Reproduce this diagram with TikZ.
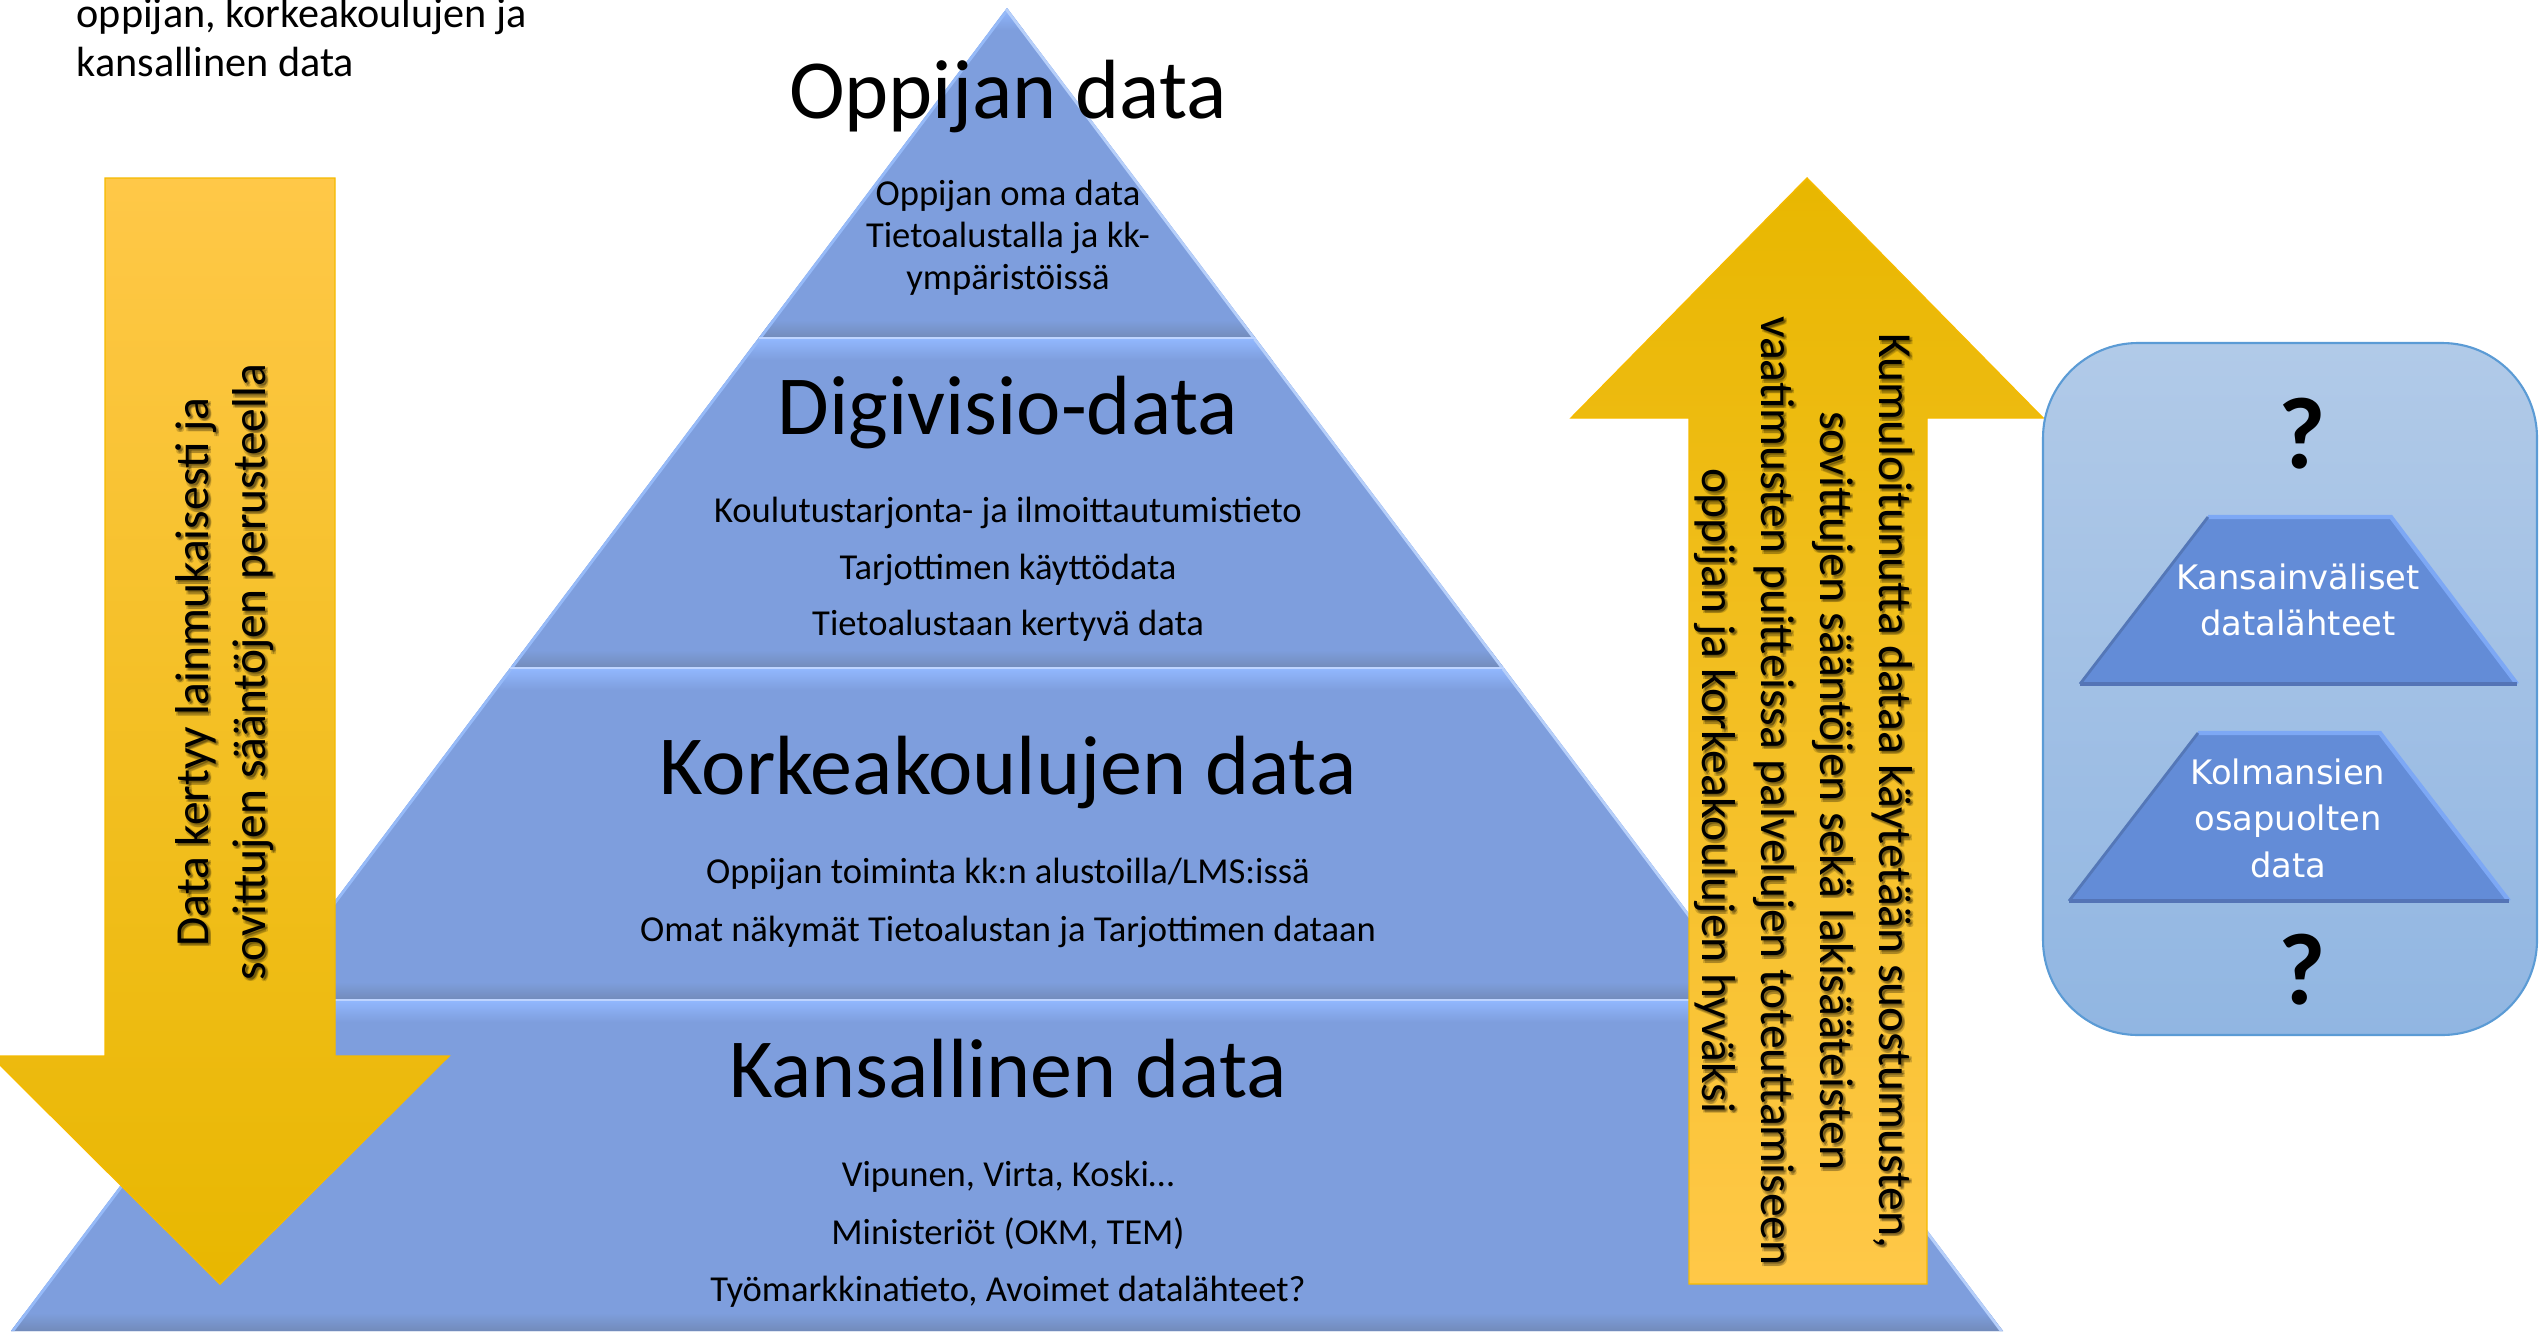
\documentclass[tikz,border=0pt]{standalone}
\usepackage{fontspec}
\setmainfont{Carlito}
\newfontfamily\dvsans{DejaVu Sans}
\usetikzlibrary{calc}
\definecolor{pyr}{RGB}{126,158,221}
\definecolor{pyrhi}{RGB}{146,184,255}
\definecolor{pyrlo}{RGB}{114,139,186}
\definecolor{pyredge}{RGB}{150,186,248}
\definecolor{goldA}{RGB}{255,200,72}
\definecolor{goldB}{RGB}{250,194,0}
\definecolor{goldC}{RGB}{232,183,0}
\definecolor{goldline}{RGB}{245,186,0}
\definecolor{boxtop}{RGB}{177,202,232}
\definecolor{boxbot}{RGB}{145,182,226}
\definecolor{boxline}{RGB}{91,155,213}
\definecolor{trap}{RGB}{99,140,215}
\definecolor{traphi}{RGB}{125,168,245}
\definecolor{traplo}{RGB}{84,116,182}
\tikzset{
  titletxt/.style={font=\fontsize{23.9}{28}\selectfont, anchor=base, inner sep=0pt},
  bodytxt/.style={font=\fontsize{10.4}{12.5}\selectfont, anchor=base, inner sep=0pt},
  arrowtxt/.style={font=\fontsize{13.5}{16}\selectfont, anchor=base, inner sep=0pt},
  cornertxt/.style={font=\fontsize{12}{14}\selectfont, anchor=base west, inner sep=0pt},
  traptxt/.style={font=\dvsans\fontsize{9.6}{12}\selectfont, text=white, anchor=base, inner sep=0pt},
  qtxt/.style={font=\bfseries\fontsize{29}{32}\selectfont, anchor=base, inner sep=0pt},
  goldarrow/.style={draw=goldline, line width=0.4pt},
}
% layer: ytop ybot xlt xrt xlb xrb
\newcommand{\pyrlayer}[6]{%
  \fill[pyr] (#3,#1) -- (#4,#1) -- (#6,#2) -- (#5,#2) -- cycle;
  \begin{scope}
    \clip (#3,#1) -- (#4,#1) -- (#6,#2) -- (#5,#2) -- cycle;
    \shade[top color=pyrhi, bottom color=pyr] (0,#1) rectangle (2539,#1+22);
    \shade[top color=pyr, bottom color=pyrlo] (0,#2-18) rectangle (2539,#2);
    \draw[pyredge, line width=1.6pt] (#3,#1) -- (#5,#2);
    \draw[pyredge!70!white, line width=1.6pt] (#4,#1) -- (#6,#2);
  \end{scope}
}
\newcommand{\shadowtext}[5]{%
  \foreach \sx/\sy [count=\k] in {2/2,3.5/3.5,1/3.5,3.5/1}{
    \node[arrowtxt, rotate=#4, text opacity=0.17] (#1s\k) at (#2+\sx,#3+\sy) {#5};
  }
  \node[arrowtxt, rotate=#4] (#1) at (#2,#3) {#5};
}
\begin{document}
\begin{tikzpicture}[x=0.01cm,y=-0.01cm]
\useasboundingbox (0,0) rectangle (2539,1333);

% ---------- pyramid ----------
\pyrlayer{8}{338}{1007}{1007}{758.5}{1255.5}
\pyrlayer{338}{668}{758.5}{1255.5}{510}{1504}
\pyrlayer{668}{1000}{510}{1504}{260}{1754}
\pyrlayer{1000}{1331}{260}{1754}{11}{2003}
\foreach \yy/\xl/\xr in {338/758.5/1255.5, 668/510/1504, 1000/260/1754}{
  \draw[pyrhi!60!white, line width=0.5pt] (\xl,\yy) -- (\xr,\yy);
}

% pyramid texts
\node[titletxt] (t1) at (1008,118) {Oppijan data};
\node[bodytxt] (t1a) at (1008,205) {Oppijan oma data};
\node[bodytxt] (t1b) at (1008,247) {Tietoalustalla ja kk-};
\node[bodytxt] (t1c) at (1008,289) {ympäristöissä};

\node[titletxt] (t2) at (1008,434) {Digivisio-data};
\node[bodytxt] (t2a) at (1008,522) {Koulutustarjonta- ja ilmoittautumistieto};
\node[bodytxt] (t2b) at (1008,579) {Tarjottimen käyttödata};
\node[bodytxt] (t2c) at (1008,635) {Tietoalustaan kertyvä data};

\node[titletxt] (t3) at (1008,794) {Korkeakoulujen data};
\node[bodytxt] (t3a) at (1008,883) {Oppijan toiminta kk:n alustoilla/LMS:issä};
\node[bodytxt] (t3b) at (1008,941) {Omat näkymät Tietoalustan ja Tarjottimen dataan};

\node[titletxt] (t4) at (1008,1097) {Kansallinen data};
\node[bodytxt] (t4a) at (1008,1186) {Vipunen, Virta, Koski…};
\node[bodytxt] (t4b) at (1008,1244) {Ministeriöt (OKM, TEM)};
\node[bodytxt] (t4c) at (1008,1301) {Työmarkkinatieto, Avoimet datalähteet?};

% ---------- corner text ----------
\node[cornertxt] (c1) at (76,27) {oppijan, korkeakoulujen ja};
\node[cornertxt] (c2) at (76,76) {kansallinen data};

% ---------- left (down) arrow ----------
\shade[goldarrow, top color=goldA, middle color=goldB, bottom color=goldC]
  (105,178) -- (335,178) -- (335,1056) -- (449,1056) -- (220,1284)
  -- (-9,1056) -- (105,1056) -- cycle;
\shadowtext{la1}{208}{672}{90}{Data kertyy lainmukaisesti ja}
\shadowtext{la2}{265}{672}{90}{sovittujen sääntöjen perusteella}

% ---------- right (up) arrow ----------
\shade[goldarrow, top color=goldC, middle color=goldB, bottom color=goldA]
  (1807,178) -- (2043,418) -- (1927,418) -- (1927,1284) -- (1689,1284)
  -- (1689,418) -- (1571,418) -- cycle;
\shadowtext{ra1}{1879}{791}{-90}{Kumuloitunutta dataa käytetään suostumusten,}
\shadowtext{ra2}{1820}{791}{-90}{sovittujen sääntöjen sekä lakisääteisten}
\shadowtext{ra3}{1761}{791}{-90}{vaatimusten puitteissa palvelujen toteuttamiseen}
\shadowtext{ra4}{1702}{791}{-90}{oppijan ja korkeakoulujen hyväksi}

% ---------- right box ----------
\shade[top color=boxtop, bottom color=boxbot, draw=boxline, line width=0.6pt,
  rounded corners=27pt] (2043,343) rectangle (2537,1035);

% trapezoid 1
\fill[trap] (2208,517) -- (2391,517) -- (2517,684) -- (2080,684) -- cycle;
\draw[traphi, line width=1.2pt] (2208,517) -- (2391,517) -- (2517,684);
\draw[traplo, line width=1.2pt] (2080,684) -- (2517,684);
\draw[trap!85!black, line width=0.8pt] (2208,517) -- (2080,684);
% trapezoid 2
\fill[trap] (2198,733) -- (2380,733) -- (2509,901) -- (2069,901) -- cycle;
\draw[traphi, line width=1.2pt] (2198,733) -- (2380,733) -- (2509,901);
\draw[traplo, line width=1.2pt] (2069,901) -- (2509,901);
\draw[trap!85!black, line width=0.8pt] (2198,733) -- (2069,901);

\node[traptxt] (k1) at (2298,589) {Kansainväliset};
\node[traptxt] (k2) at (2298,635) {datalähteet};
\node[traptxt] (m1) at (2288,784) {Kolmansien};
\node[traptxt] (m2) at (2288,830) {osapuolten};
\node[traptxt] (m3) at (2288,877) {data};

\node[qtxt] (q1) at (2302,468) {?};
\node[qtxt] (q2) at (2302,1004) {?};
\end{tikzpicture}
\end{document}
